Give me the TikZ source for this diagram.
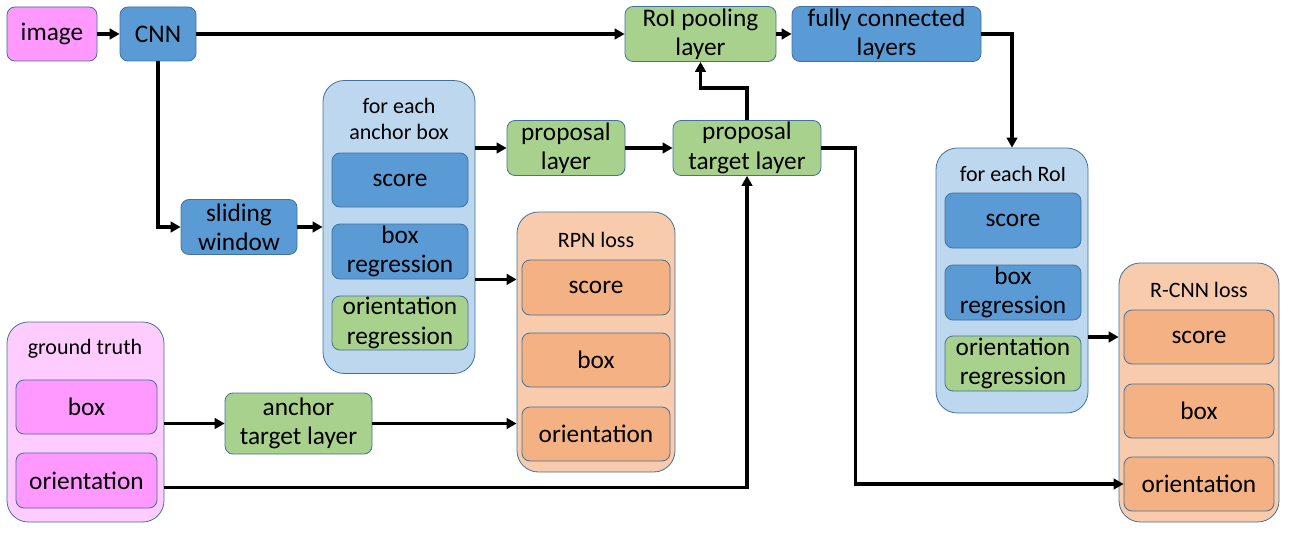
\documentclass[tikz,border=0pt]{standalone}
\usepackage{fontspec}
\setmainfont{Carlito}
\usetikzlibrary{arrows.meta}
\definecolor{pinkD}{HTML}{FF99FF}
\definecolor{pinkL}{HTML}{FFCCFF}
\definecolor{blueD}{HTML}{5B9BD5}
\definecolor{blueL}{HTML}{BDD7EE}
\definecolor{greenD}{HTML}{A9D18E}
\definecolor{orangeD}{HTML}{F4B183}
\definecolor{orangeL}{HTML}{F8CBAD}
\definecolor{edgeC}{HTML}{41719C}
\begin{document}
\begin{tikzpicture}[x=0.75pt,y=-0.75pt,
  sz/.style 2 args={minimum width=#1*0.75pt, minimum height=#2*0.75pt},
  box/.style={draw=edgeC, line width=0.6pt, rounded corners=6pt, inner sep=0pt,
    align=center, font=\fontsize{19}{22}\selectfont},
  cont/.style={draw=edgeC, line width=0.6pt, rounded corners=16pt, inner sep=0pt},
  ttl/.style={font=\fontsize{16.5}{19.5}\selectfont, align=center, inner sep=0pt},
  arr/.style={line width=2.5pt, -{Triangle[length=7.5pt,width=8pt]}}]
\useasboundingbox (0,0) rectangle (1291,535);
% top row
\node[box, fill=pinkD, sz={90}{54}] (img) at (52,34) {image};
\node[box, fill=blueD, sz={76}{54}] (cnn) at (158,34) {CNN};
\node[box, fill=greenD, sz={151}{55}] (roi) at (700.5,34) {RoI pooling\\layer};
\node[box, fill=blueD, sz={189}{55}] (fc) at (886.5,34) {fully connected\\layers};
% RPN part
\node[box, fill=blueD, sz={116}{55}] (slide) at (239,227) {sliding\\window};
\node[cont, fill=blueL, sz={152}{293}] (anc) at (399,227) {};
\node[ttl] (ancT) at (399,119) {for each\\anchor box};
\node[box, fill=blueD, sz={136}{54}] (asc) at (400,180) {score};
\node[box, fill=blueD, sz={136}{55}] (abr) at (400,251.5) {box\\regression};
\node[box, fill=greenD, sz={136}{54}] (aor) at (400,323) {orientation\\regression};
\node[box, fill=greenD, sz={118}{55}] (prop) at (566,148) {proposal\\layer};
\node[box, fill=greenD, sz={148}{55}] (ptl) at (747,148) {proposal\\target layer};
% RPN loss
\node[cont, fill=orangeL, sz={158}{260}] (rpn) at (596,342) {};
\node[ttl] (rpnT) at (596,240) {RPN loss};
\node[box, fill=orangeD, sz={148}{55}] (rsc) at (596,287.5) {score};
\node[box, fill=orangeD, sz={148}{54}] (rbx) at (596,360) {box};
\node[box, fill=orangeD, sz={148}{54}] (ror) at (596,434) {orientation};
% ground truth
\node[cont, fill=pinkL, sz={157}{200}] (gt) at (85.5,422) {};
\node[ttl] (gtT) at (85,349) {ground truth};
\node[box, fill=pinkD, sz={141}{54}] (gbx) at (86.5,407) {box};
\node[box, fill=pinkD, sz={141}{55}] (gor) at (86.5,480.5) {orientation};
\node[box, fill=greenD, sz={147}{61}] (atl) at (298.5,423.5) {anchor\\target layer};
% R-CNN head
\node[cont, fill=blueL, sz={152}{265}] (rc) at (1012,280.5) {};
\node[ttl] (rcT) at (1013,174) {for each RoI};
\node[box, fill=blueD, sz={136}{55}] (csc) at (1013,220.5) {score};
\node[box, fill=blueD, sz={136}{55}] (cbr) at (1013,292.5) {box\\regression};
\node[box, fill=greenD, sz={136}{55}] (cor) at (1013,363.5) {orientation\\regression};
% R-CNN loss
\node[cont, fill=orangeL, sz={160}{259}] (rl) at (1199,392.5) {};
\node[ttl] (rlT) at (1199,290) {R-CNN loss};
\node[box, fill=orangeD, sz={150}{54}] (lsc) at (1199,337) {score};
\node[box, fill=orangeD, sz={150}{54}] (lbx) at (1199,411) {box};
\node[box, fill=orangeD, sz={150}{54}] (lor) at (1199,484) {orientation};
% connectors
\draw[arr] (img) -- (cnn);
\draw[arr] (cnn.east) -- (cnn.east -| roi.west);
\draw[arr] (roi) -- (fc);
\draw[arr] (fc.east) -| (rc.north);
\draw[arr] (cnn.south) |- (slide.west);
\draw[arr] (slide.east) -- (slide.east -| anc.west);
\draw[arr] (prop.west -| anc.east) -- (prop.west);
\draw[arr] (prop) -- (ptl);
\draw[arr] (ptl.north) -- ++(0,-32) -| (roi.south);
\draw[arr] (ptl.east) -- ++(34,0) |- (lor.west);
\draw[arr] (abr.south -| anc.east) -- (abr.south -| rpn.west);
\draw[arr] (gt.east |- atl.west) -- (atl.west);
\draw[arr] (atl.east) -- (atl.east -| rpn.west);
\draw[arr] ([yshift=-5pt]gor.east -| gt.east) -| (ptl.south);
\draw[arr] (lsc.west -| rc.east) -- (lsc.west -| rl.west);
\end{tikzpicture}
\end{document}
